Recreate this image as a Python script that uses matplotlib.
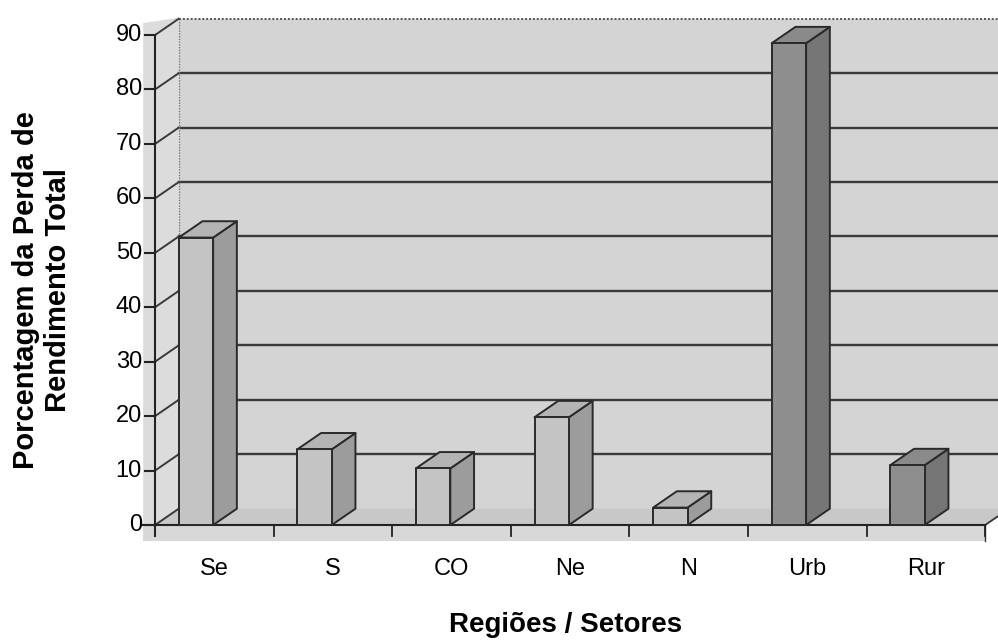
import matplotlib.pyplot as plt
from matplotlib.patches import Polygon, Rectangle

plt.rcParams['font.family'] = ['Liberation Sans', 'DejaVu Sans']

categorias = ['Se', 'S', 'CO', 'Ne', 'N', 'Urb', 'Rur']
perda = [52.8, 13.9, 10.4, 19.8, 3.2, 88.5, 11.0]
escuras = [False, False, False, False, False, True, True]
yticks = [0, 10, 20, 30, 40, 50, 60, 70, 80, 90]

# profundidade do efeito 3D (em unidades de dados)
dx, dy = 0.2, 3.0
larg = 0.29
n = len(categorias)

fig = plt.figure(figsize=(9.98, 6.4), dpi=100)
ax = fig.add_axes([130 / 998, 95 / 640, 868 / 998, 535 / 640])
ax.set_xlim(-0.211, 7.108)
ax.set_ylim(-3.67, 94.6)
ax.axis('off')

# paredes e piso
ax.add_patch(Rectangle((dx, dy), n + 1, 90, fc='#d4d4d4', ec='none', zorder=0))
ax.add_patch(Polygon([(-0.1, -2.9), (-0.1, 92.2), (dx, 93.2), (dx, -2.9)],
                     fc='#dcdcdc', ec='none', zorder=0))
ax.add_patch(Polygon([(-0.1, -2.9), (-0.1, 0), (n, 0), (n, -2.9)],
                     fc='#d8d8d8', ec='none', zorder=0))
ax.add_patch(Polygon([(0, 0), (n, 0), (n + dx, dy), (dx, dy)],
                     fc='#c8c8c8', ec='none', zorder=1))
ax.plot([n, n + dx], [0, dy], color='#333333', lw=1.3, zorder=2)
ax.plot([n, n], [0, -2.9], color='#333333', lw=1.0, zorder=2)

# linhas de grade na parede do fundo e na lateral
for v in yticks[1:-1]:
    ax.plot([dx, n + dx + 1], [v + dy, v + dy], color='#3a3a3a', lw=1.7, zorder=1)
for v in yticks:
    ax.plot([0, dx], [v, v + dy], color='#3a3a3a', lw=1.4, zorder=1)
ax.plot([dx, n + dx + 1], [90 + dy, 90 + dy], color='#555555', lw=1.4,
        ls=(0, (1, 1)), zorder=1)
ax.plot([dx, dx], [dy, 90 + dy], color='#777777', lw=1.0, ls=(0, (1, 1)), zorder=1)

# eixos
ax.plot([0, 0], [-2.0, 90], color='#222222', lw=1.5, zorder=2)
ax.plot([-0.1, n], [0, 0], color='#222222', lw=1.5, zorder=2)
for v in yticks:
    ax.plot([-0.085, 0], [v, v], color='#222222', lw=1.5, zorder=2)
    ax.text(-0.11, v, str(v), ha='right', va='center', fontsize=17)
for i in range(1, n + 1):
    ax.plot([i, i], [0, -2.0], color='#222222', lw=1.3, zorder=2)
for i, c in enumerate(categorias):
    ax.text(i + 0.5, -8.0, c, ha='center', va='center', fontsize=17, clip_on=False)

# barras 3D
for i, (v, esc) in enumerate(zip(perda, escuras)):
    x0 = i + 0.2
    x1 = x0 + larg
    if esc:
        cf, cl, ct = '#8e8e8e', '#767676', '#8a8a8a'
    else:
        cf, cl, ct = '#c4c4c4', '#9c9c9c', '#b4b4b4'
    kw = dict(ec='#2a2a2a', lw=1.4, joinstyle='round', zorder=5)
    ax.add_patch(Polygon([(x1, 0), (x1 + dx, dy), (x1 + dx, v + dy), (x1, v)], fc=cl, **kw))
    ax.add_patch(Polygon([(x0, v), (x1, v), (x1 + dx, v + dy), (x0 + dx, v + dy)], fc=ct, **kw))
    ax.add_patch(Rectangle((x0, 0), larg, v, fc=cf, **kw))

fig.text(566 / 998, 1 - 625 / 640, 'Regiões / Setores', ha='center', va='center',
         fontsize=20, fontweight='bold')
fig.text(42 / 998, 1 - 290 / 640, 'Porcentagem da Perda de\nRendimento Total',
         ha='center', va='center', rotation=90, fontsize=21, fontweight='bold',
         linespacing=1.2)

fig.savefig('out.png', dpi=100)
